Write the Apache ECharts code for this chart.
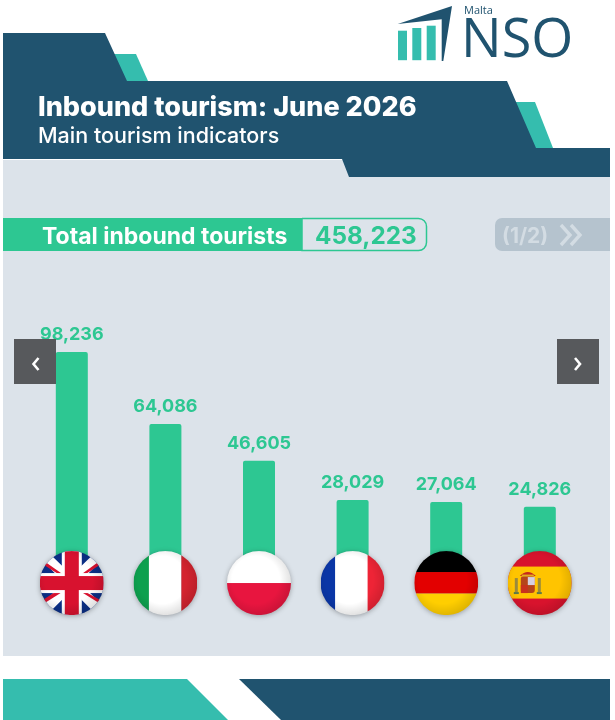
<!DOCTYPE html>
<html><head><meta charset="utf-8">
<style>html,body{margin:0;padding:0;background:#fff}#c{width:615px;height:720px}</style>
<script src="https://cdn.jsdelivr.net/npm/echarts@6/dist/echarts.min.js"></script>
</head><body><div id="c"></div>
<script>
const countries = ['United Kingdom','Italy','Poland','France','Germany','Spain'];
const tourists = [98236,64086,46605,28029,27064,24826];
const titleText = 'Inbound tourism: June 2026';
const subtitleText = 'Main tourism indicators';
const totalLabel = 'Total inbound tourists';
const totalValue = '458,223';
const pageLabel = '(1/2)';

const DARK='#20536f', TEAL='#35bdae', GREEN='#2dc792', PANEL='#dce3ea';

function svgFlag(body){
  const s = '<svg xmlns="http://www.w3.org/2000/svg" width="256" height="256" viewBox="0 0 64 64"><defs>'+
   '<clipPath id="c"><circle cx="32" cy="32" r="32"/></clipPath>'+
   '<radialGradient id="g" cx="0.45" cy="0.45" r="0.62"><stop offset="0.6" stop-color="#000" stop-opacity="0"/><stop offset="1" stop-color="#000" stop-opacity="0.16"/></radialGradient>'+
   '</defs><g clip-path="url(#c)">'+body+'<rect width="64" height="64" fill="url(#g)"/></g></svg>';
  return 'image://data:image/svg+xml;charset=utf-8,'+encodeURIComponent(s);
}
const flagArt = {
 'United Kingdom': svgFlag('<rect width="64" height="64" fill="#0b2f86"/>'+
   '<path d="M-4 3 L3 -4 L68 59 L61 68 Z M68 3 L61 -4 L-4 59 L3 68 Z" fill="#fff"/>'+
   '<path d="M-2 10 L0 7 L24 24 L20 24 Z M66 10 L64 7 L42 23 L46 23 Z M0 55 L-2 52 L20 38 L24 40 Z M64 55 L66 52 L44 40 L40 40 Z" fill="#d8122f"/>'+
   '<rect x="22" width="20" height="64" fill="#fff"/><rect y="22" width="64" height="20" fill="#fff"/>'+
   '<rect x="25" width="14" height="64" fill="#d8122f"/><rect y="25" width="64" height="14" fill="#d8122f"/>'),
 'Italy': svgFlag('<rect width="16" height="64" fill="#0da04e"/><rect x="15.5" width="32.5" height="64" fill="#fff"/><rect x="48" width="16" height="64" fill="#d4242f"/>'),
 'Poland': svgFlag('<rect width="64" height="32" fill="#fff"/><rect y="32" width="64" height="32" fill="#e8153f"/>'),
 'France': svgFlag('<rect width="15" height="64" fill="#0a36a6"/><rect x="14.5" width="33" height="64" fill="#fff"/><rect x="47" width="17" height="64" fill="#ee2436"/>'),
 'Germany': svgFlag('<rect width="64" height="21.5" fill="#000"/><rect y="21" width="64" height="21.5" fill="#e30000"/><rect y="42.5" width="64" height="21.5" fill="#ffce00"/>'),
 'Spain': svgFlag('<rect width="64" height="64" fill="#d8132d"/><rect y="15.5" width="64" height="32" fill="#ffc400"/>'+
   '<rect x="13" y="25" width="14" height="17" rx="3" fill="#b5451a"/><rect x="20" y="26" width="7" height="8" fill="#d5d0e0"/><rect x="13" y="34" width="7" height="8" fill="#c8321e"/>'+
   '<path d="M12 25 Q20 17 28 25 Z" fill="#c5281c"/><rect x="14" y="23.5" width="12" height="2" fill="#e2ac22"/>'+
   '<rect x="7" y="27" width="3" height="14" fill="#9a8a3c"/><rect x="30" y="27" width="3" height="14" fill="#9a8a3c"/><rect x="6" y="41" width="5" height="2" fill="#5c7a4a"/><rect x="29" y="41" width="5" height="2" fill="#5c7a4a"/>')
};

const chart = echarts.init(document.getElementById('c'), null, {renderer:'canvas'});
const poly=(pts,fill,z)=>({type:'polygon',shape:{points:pts},style:{fill},z:z||0,silent:true});
const txt=(x,y,t,size,fill,weight,family,align,z)=>({type:'text',x,y,z:z||5,silent:true,style:{text:t,fontSize:size,fill,fontWeight:weight,fontFamily:family,textAlign:align||'left',textVerticalAlign:'middle'}});
const rect=(x,y,w,h,fill,r,z,extra)=>({type:'rect',shape:{x,y,width:w,height:h,r:r||0},style:Object.assign({fill},extra||{}),z:z||0,silent:true});
const chevron=(pts,stroke,w,z)=>({type:'polyline',shape:{points:pts},style:{stroke,lineWidth:w,fill:'none',lineCap:'butt'},z,silent:true});

chart.setOption({
 animation:false,
 backgroundColor:'#fff',
 title:{text:titleText,subtext:subtitleText,left:38,top:94,itemGap:5,padding:0,
   textStyle:{color:'#fff',fontFamily:'Inter',fontWeight:800,fontSize:27},
   subtextStyle:{color:'#fff',fontFamily:'Inter',fontWeight:500,fontSize:21.5}},
 grid:{left:25,width:561.6,top:348.2,height:253,containLabel:false},
 xAxis:{type:'category',data:countries,show:false},
 yAxis:{type:'value',min:-20000,max:100000,interval:20000,show:false},
 series:[
  {type:'bar',data:tourists,barWidth:32,z:2,
   itemStyle:{color:GREEN,borderRadius:[2,2,0,0]},
   label:{show:true,position:'top',distance:8,color:GREEN,fontFamily:'Inter',fontWeight:700,fontSize:18,
     formatter:p=>p.value.toLocaleString('en-US')}},
  {type:'scatter',z:3,symbolSize:64,
   data:countries.map(c=>({value:[c,-11400],symbol:flagArt[c]})),
   itemStyle:{opacity:1,shadowBlur:5,shadowColor:'rgba(0,0,0,0.3)',shadowOffsetY:1},
   silent:true}
 ],
 graphic:[
  rect(3,160,607,496,PANEL,0,0),
  poly([[112,54],[136,54],[148,81],[124,81]],TEAL,1),
  poly([[512,102],[535,102],[553,148],[532,148]],TEAL,1),
  poly([[3,33],[105,33],[127,81],[507,81],[536,148],[610,148],[610,177],[349,177],[342,159],[3,159]],DARK,1),
  poly([[3,679],[187,679],[228,720],[3,720]],TEAL,1),
  poly([[239,679],[610,679],[610,720],[281,720]],DARK,1),
  // logo
  rect(398,30.7,9,29.5,TEAL,0,1),rect(412.3,28,9,32.2,TEAL,0,1),rect(426.7,25.7,9,34.5,TEAL,0,1),
  poly([[397.7,24],[452,6],[443.3,61],[441.7,61],[441.7,19.3]],DARK,1),
  txt(464,11,'Malta',11,DARK,500,'Open Sans','left'),
  txt(461,41.5,'NSO',54,DARK,500,'Open Sans','left'),
  // total box
  rect(3,218,300,33,GREEN,0,1),
  rect(302,218.5,124.5,32,PANEL,[0,8,8,0],1,{stroke:GREEN,lineWidth:1.5}),
  txt(42,237,totalLabel,23,'#fff',700,'Inter'),
  txt(315,237,totalValue,24.3,GREEN,700,'Inter'),
  // page box
  rect(495,218,115,33,'#b5c3ce',[7,0,0,7],1),
  txt(502,237,pageLabel,21,'#d3dce3',700,'Inter'),
  chevron([[561,225],[570,235],[561,245]],'#d3dce3',3.4,5),
  chevron([[571,225],[580,235],[571,245]],'#d3dce3',3.4,5),
  // nav buttons
  rect(14,339,42,45,'#57595c',0,100),
  rect(557,339,42,45,'#57595c',0,100),
  chevron([[38.5,358],[33.5,364],[38.5,370]],'#fff',2.6,101),
  chevron([[575,358],[580,364],[575,370]],'#fff',2.6,101)
 ]
});
</script></body></html>
